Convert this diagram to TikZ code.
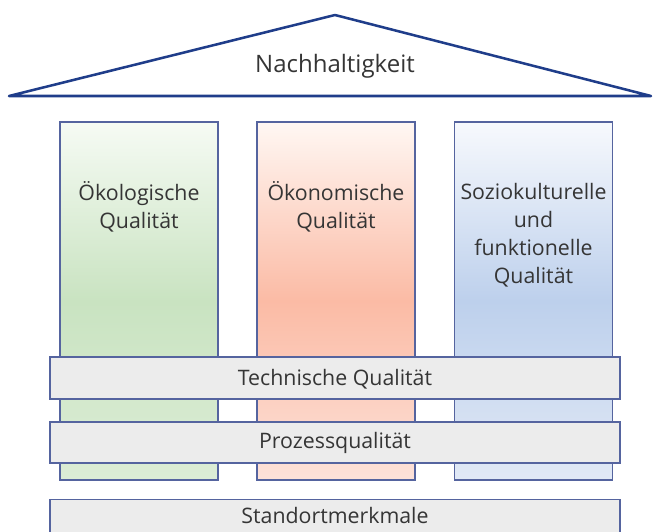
\documentclass[tikz,border=0pt]{standalone}
\usepackage{fontspec}
\setmainfont{Open Sans}
\usetikzlibrary{calc}

\definecolor{roofblue}{HTML}{1F3D8A}
\definecolor{edgeblue}{HTML}{55649F}
\definecolor{bargray}{HTML}{ECECEC}
\definecolor{txtgray}{HTML}{353535}
\definecolor{greenT}{HTML}{F6FBF4}
\definecolor{greenM}{HTML}{C9E3C1}
\definecolor{greenB}{HTML}{DCEDD6}
\definecolor{redT}{HTML}{FFF7F3}
\definecolor{redM}{HTML}{FBBBA5}
\definecolor{redB}{HTML}{FDE2D9}
\definecolor{blueT}{HTML}{F7F9FD}
\definecolor{blueM}{HTML}{BDD0EC}
\definecolor{blueB}{HTML}{E1E9F6}

\begin{document}
\begin{tikzpicture}[x=0.75pt,y=-0.75pt,
    pillar/.style={draw=edgeblue, line width=1.1pt, minimum width=118.5pt, minimum height=268.5pt, inner sep=0pt},
    bar/.style={draw=edgeblue, line width=1.1pt, fill=bargray, minimum width=427.5pt, inner sep=0pt},
    lbl/.style={align=center, anchor=base, inner sep=0pt, text=txtgray, font=\fontsize{16}{20.8}\selectfont}]
    \useasboundingbox (0,0) rectangle (654,532);
    \clip (0,0) rectangle (654,532);

    % roof
    \coordinate (roofL) at (9,96);
    \coordinate (roofT) at (335,15);
    \coordinate (roofR) at (651,96);
    \draw[roofblue, line width=1.9pt, line join=round] (roofL) -- (roofT) -- (roofR) -- cycle;
    \node[lbl, font=\fontsize{18}{22}\selectfont] (nachh) at (335,72) {Nachhaltigkeit};

    % three pillars
    \foreach \nm/\cx/\cl in {oeko/139/green, oekon/336/red, sozio/533.5/blue} {
        \node[pillar, top color=\cl T, bottom color=\cl B, middle color=\cl M] (\nm) at (\cx,301) {};
    }
    % labels sit on the baseline of their last line
    \node[lbl] (oekoT) at (139,228) {Ökologische\\Qualität};
    \node[lbl] (oekonT) at (336,228) {Ökonomische\\Qualität};
    \node[lbl] (soziT) at (533.5,283) {Soziokulturelle\\und\\funktionelle\\Qualität};

    % cross bars
    \node[bar, minimum height=31.5pt] (techn) at (335,378) {};
    \node[lbl] (technT) at (335,385) {Technische Qualität};
    \node[bar, minimum height=30.75pt] (proz) at (335,442.5) {};
    \node[lbl] (prozT) at (335,448) {Prozessqualität};
    \node[bar, minimum height=40pt] (stand) at (335,526) {};
    \node[lbl] (standT) at (335,523) {Standortmerkmale};
\end{tikzpicture}
\end{document}
